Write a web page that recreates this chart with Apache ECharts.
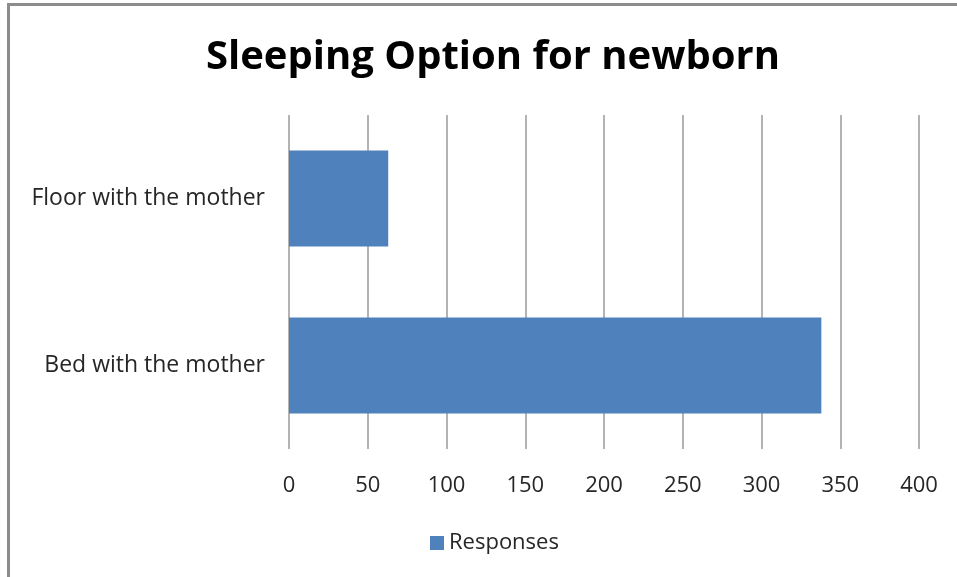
<!DOCTYPE html>
<html>
<head>
<meta charset="utf-8">
<script src="https://cdn.jsdelivr.net/npm/echarts@6/dist/echarts.min.js"></script>
<style>
  html, body { margin: 0; padding: 0; background: #fff; }
  #chart { width: 957px; height: 577px; }
  .frame {
    position: absolute; left: 7px; top: 3px; right: -10px; bottom: -10px;
    border-left: 3px solid #8c8c8c; border-top: 3px solid #8c8c8c;
    pointer-events: none;
  }
</style>
</head>
<body>
<div id="chart"></div>
<div class="frame"></div>
<script>
// data
const categories = ['Bed with the mother', 'Floor with the mother']
const responses = [338, 63]
const seriesName = 'Responses'
const titleText = 'Sleeping Option for newborn'

const chart = echarts.init(document.getElementById('chart'))

chart.setOption({
  animation: false,
  title: {
    text: titleText,
    left: 201,
    top: 33,
    textStyle: {
      fontFamily: 'Open Sans',
      fontWeight: 'bold',
      fontSize: 40,
      color: '#000'
    }
  },
  legend: {
    bottom: 18,
    left: 425,
    itemWidth: 14,
    itemHeight: 14,
    icon: 'rect',
    itemGap: 6,
    textStyle: { fontFamily: 'Open Sans', fontSize: 22, color: '#262626' },
    data: [seriesName]
  },
  grid: { left: 289, right: 38, top: 115, bottom: 128 },
  xAxis: {
    type: 'value',
    min: 0,
    max: 400,
    interval: 50,
    axisLine: { show: false },
    axisTick: { show: false },
    axisLabel: { fontFamily: 'Open Sans', fontSize: 22, color: '#262626', margin: 26 },
    splitLine: { lineStyle: { color: '#9a9a9a', width: 1.5 } }
  },
  yAxis: {
    type: 'category',
    data: categories,
    axisLine: { show: false },
    axisTick: { show: false },
    axisLabel: { fontFamily: 'Open Sans', fontSize: 23, color: '#262626', margin: 24 }
  },
  series: [
    {
      name: seriesName,
      type: 'bar',
      data: responses,
      barCategoryGap: '42.5%',
      itemStyle: { color: '#4f81bd' }
    }
  ]
})
</script>
</body>
</html>
